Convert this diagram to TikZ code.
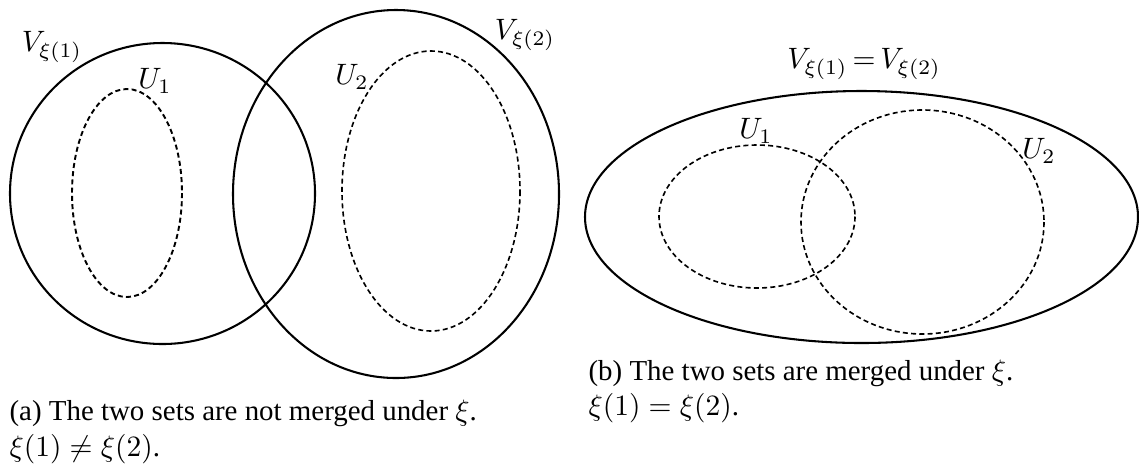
\documentclass[tikz,border=0pt]{standalone}
\usepackage[no-math]{fontspec}
\setmainfont{Liberation Serif}
\begin{document}
\begin{tikzpicture}[x=0.339pt,y=-0.339pt,
  setline/.style={line width=0.7pt},
  subline/.style={line width=0.55pt, dash pattern=on 1.7pt off 1.1pt},
  lbl/.style={inner sep=0pt},
  captext/.style={inner sep=0pt, anchor=base west, font=\fontsize{9.8}{12}\selectfont}]
\useasboundingbox (0,0) rectangle (1139,465);
% (a)
\coordinate (cV1) at (162.5,193.5);
\coordinate (cU1) at (127,193);
\coordinate (cV2) at (396,194);
\coordinate (cU2) at (431,191);
\draw[setline] (cV1) ellipse [x radius=152.5, y radius=150.5];
\draw[subline, line width=0.65pt] (cU1) ellipse [x radius=55, y radius=104];
\draw[setline] (cV2) ellipse [x radius=163, y radius=184];
\draw[subline] (cU2) ellipse [x radius=89, y radius=140];
\node[lbl] (lV1) at (52,47) {$V_{\xi(1)}$};
\node[lbl] (lU1) at (155,81) {$U_1$};
\node[lbl] (lV2) at (525,35) {$V_{\xi(2)}$};
\node[lbl] (lU2) at (352,77) {$U_2$};
\node[captext] (capa1) at (9,420) {(a) The two sets are not merged under $\xi$.};
\node[captext] (capa2) at (9,456) {$\xi(1)\neq\xi(2)$.};
% (b)
\coordinate (cV) at (861.5,217);
\coordinate (cW1) at (757,216.5);
\coordinate (cW2) at (922.5,222);
\draw[setline] (cV) ellipse [x radius=276.5, y radius=126];
\draw[subline] (cW1) ellipse [x radius=98, y radius=71.5];
\draw[subline] (cW2) ellipse [x radius=121.5, y radius=112];
\node[lbl] (lV) at (864,64) {$V_{\xi(1)}\mskip3mu{=}\mskip3mu V_{\xi(2)}$};
\node[lbl] (lW1) at (756,131) {$U_1$};
\node[lbl] (lW2) at (1039,151) {$U_2$};
\node[captext] (capb1) at (588,380) {(b) The two sets are merged under $\xi$.};
\node[captext] (capb2) at (588,415) {$\xi(1)=\xi(2)$.};
\end{tikzpicture}
\end{document}
